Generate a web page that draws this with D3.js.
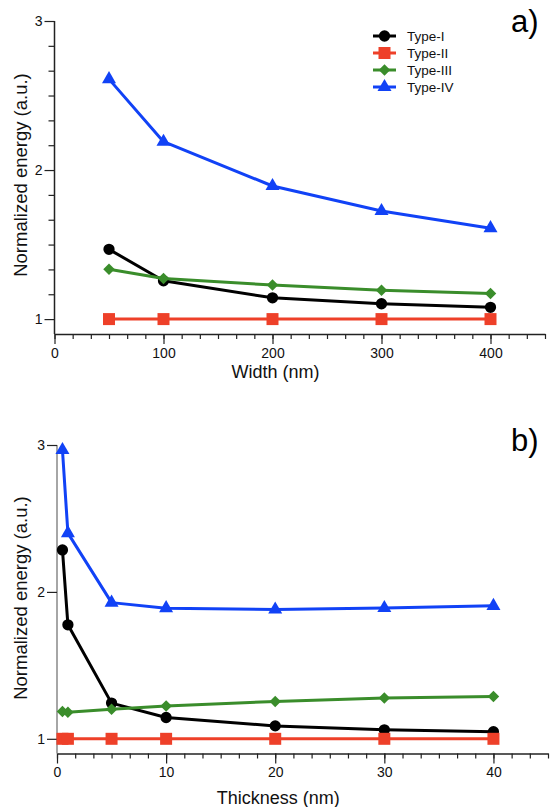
<!DOCTYPE html>
<html>
<head>
<meta charset="utf-8">
<script src="https://cdn.jsdelivr.net/npm/d3@7"></script>
<style>
  body { margin: 0; background: #fff; }
  svg { display: block; font-family: "Liberation Sans", Arial, sans-serif; }
</style>
</head>
<body>
<div id="chart-container"></div>
<script>
const width = 550;
const height = 807;

// panel a: width sweep
const widths = [50, 100, 200, 300, 400];
const typeIa = [1.468, 1.257, 1.143, 1.103, 1.079];
const typeIIa = [1, 1, 1, 1, 1];
const typeIIIa = [1.334, 1.273, 1.228, 1.193, 1.172];
const typeIVa = [2.61, 2.19, 1.893, 1.725, 1.61];

// panel b: thickness sweep
const thicknesses = [0.5, 1, 5, 10, 20, 30, 40];
const typeIb = [2.286, 1.776, 1.243, 1.145, 1.088, 1.061, 1.048];
const typeIIb = [1, 1, 1, 1, 1, 1, 1];
const typeIIIb = [1.186, 1.18, 1.202, 1.224, 1.254, 1.277, 1.288];
const typeIVb = [2.966, 2.40, 1.927, 1.889, 1.88, 1.89, 1.905];

const seriesNames = ["Type-I", "Type-II", "Type-III", "Type-IV"];
const widthTicks = [0, 100, 200, 300, 400];
const thicknessTicks = [0, 10, 20, 30, 40];
const energyTicks = [1, 2, 3];

const colors = {
  "Type-I": "#000000",
  "Type-II": "#ee4029",
  "Type-III": "#3a8d2b",
  "Type-IV": "#1142f6",
};

const symbols = {
  "Type-I": d3.symbol().type(d3.symbolCircle).size(100),
  "Type-II": d3.symbol().type(d3.symbolSquare).size(144),
  "Type-III": d3.symbol().type(d3.symbolSquare).size(66),
  "Type-IV": d3.symbol().type(d3.symbolTriangle).size(85),
};
const rotate = { "Type-III": 45 };

const svg = d3
  .select("#chart-container")
  .append("svg")
  .attr("width", width)
  .attr("height", height)
  .attr("viewBox", `0 0 ${width} ${height}`);

function drawPanel(cfg) {
  const x = d3.scaleLinear().domain(cfg.xDomain).range(cfg.xRange);
  const y = d3.scaleLinear().domain([0.9, 3]).range(cfg.yRange);
  const g = svg.append("g");

  // minor ticks x
  const xStep = cfg.xMajor / 6;
  const xMinor = d3.range(0, Math.round(cfg.xDomain[1] / xStep) + 1).map((i) => i * xStep);
  g.append("g")
    .attr("transform", `translate(0,${cfg.yRange[0]})`)
    .call(d3.axisBottom(x).tickValues(xMinor).tickSize(5).tickFormat(""))
    .call((a) => a.select(".domain").remove())
    .call((a) => a.selectAll("line").attr("stroke", "#222").attr("stroke-width", 1.2));

  // x axis
  g.append("g")
    .attr("transform", `translate(0,${cfg.yRange[0]})`)
    .call(d3.axisBottom(x).tickValues(cfg.xTicks).tickSize(10).tickSizeOuter(0).tickPadding(4))
    .call((a) => a.select(".domain").attr("stroke", "#222").attr("stroke-width", 1.5))
    .call((a) => a.selectAll("line").attr("stroke", "#222").attr("stroke-width", 1.2))
    .call((a) => a.selectAll("text").attr("font-size", 14).attr("fill", "#111"));

  // minor ticks y
  if (cfg.yMinor) {
    const yMinor = d3.range(1, 12).filter((k) => k !== 6).map((k) => 1 + k / 6);
    g.append("g")
      .attr("transform", `translate(${cfg.xRange[0]},0)`)
      .call(d3.axisLeft(y).tickValues(yMinor).tickSize(6).tickFormat(""))
      .call((a) => a.select(".domain").remove())
      .call((a) => a.selectAll("line").attr("stroke", "#222").attr("stroke-width", 1.2));
  }

  // y axis
  g.append("g")
    .attr("transform", `translate(${cfg.xRange[0]},0)`)
    .call(d3.axisLeft(y).tickValues(energyTicks).tickSize(10).tickSizeOuter(0).tickPadding(2).tickFormat(d3.format("d")))
    .call((a) => a.select(".domain").attr("stroke", cfg.yAxisColor).attr("stroke-width", 1.5)
      .attr("d", `M0,${y(3)}V${cfg.yRange[0]}`))
    .call((a) => a.selectAll("line").attr("stroke", "#222").attr("stroke-width", 1.2))
    .call((a) => a.selectAll("text").attr("font-size", 14).attr("fill", "#111"));

  // series
  const line = d3.line().x((d) => x(d[0])).y((d) => y(d[1]));
  seriesNames.forEach((name, i) => {
    const pts = cfg.xs.map((v, j) => [v, cfg.series[i][j]]);
    g.append("path")
      .datum(pts)
      .attr("d", line)
      .attr("fill", "none")
      .attr("stroke", colors[name])
      .attr("stroke-width", 3)
      .attr("stroke-linejoin", "round");
    g.selectAll(null)
      .data(pts)
      .join("path")
      .attr("d", symbols[name])
      .attr("transform", (d) => `translate(${x(d[0])},${y(d[1])}) rotate(${rotate[name] || 0})`)
      .attr("fill", colors[name]);
  });

  // axis titles
  g.append("text")
    .attr("x", (cfg.xRange[0] + x(cfg.xTicks[cfg.xTicks.length - 1])) / 2 + 3)
    .attr("y", cfg.xTitleY)
    .attr("text-anchor", "middle")
    .attr("font-size", 18)
    .attr("fill", "#111")
    .text(cfg.xTitle);

  g.append("text")
    .attr("transform", `translate(27,${cfg.yTitleY}) rotate(-90)`)
    .attr("text-anchor", "middle")
    .attr("font-size", 18.5)
    .attr("fill", "#111")
    .text("Normalized energy (a.u.)");

  g.append("text")
    .attr("x", 511)
    .attr("y", cfg.tagY)
    .attr("font-size", 31)
    .attr("fill", "#000")
    .text(cfg.tag);
}

drawPanel({
  xDomain: [0, 450],
  xRange: [54.5, 545],
  yRange: [334, 21],
  xMajor: 100,
  xTicks: widthTicks,
  xs: widths,
  series: [typeIa, typeIIa, typeIIIa, typeIVa],
  yMinor: true,
  yAxisColor: "#222",
  xTitle: "Width (nm)",
  xTitleY: 378,
  yTitleY: 175,
  tag: "a)",
  tagY: 32,
});

drawPanel({
  xDomain: [0, 45],
  xRange: [57, 548],
  yRange: [753.5, 445],
  xMajor: 10,
  xTicks: thicknessTicks,
  xs: thicknesses,
  series: [typeIb, typeIIb, typeIIIb, typeIVb],
  yMinor: false,
  yAxisColor: "#888",
  xTitle: "Thickness (nm)",
  xTitleY: 804,
  yTitleY: 598,
  tag: "b)",
  tagY: 451,
});

// legend (panel a)
const legend = svg.append("g").attr("transform", "translate(373,36)");
seriesNames.forEach((name, i) => {
  const row = legend.append("g").attr("transform", `translate(0,${i * 17})`);
  row.append("line")
    .attr("x1", 0).attr("x2", 23)
    .attr("stroke", colors[name])
    .attr("stroke-width", 3);
  row.append("path")
    .attr("d", symbols[name])
    .attr("transform", `translate(11.5,0) rotate(${rotate[name] || 0})`)
    .attr("fill", colors[name]);
  row.append("text")
    .attr("x", 34)
    .attr("y", 5)
    .attr("font-size", 13.5)
    .attr("fill", "#111")
    .text(name);
});
</script>
</body>
</html>
